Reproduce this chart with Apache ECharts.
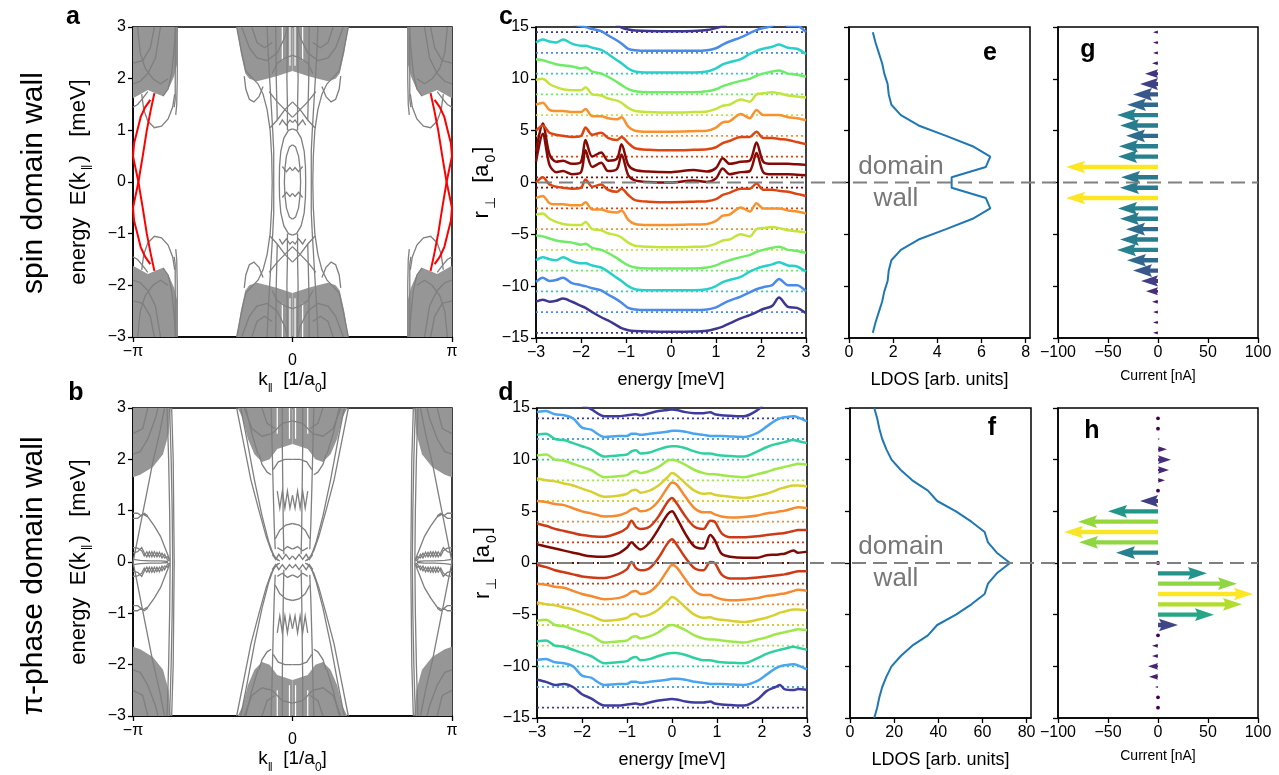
<!DOCTYPE html>
<html>
<head>
<meta charset="utf-8">
<script src="https://cdn.jsdelivr.net/npm/echarts@6/dist/echarts.min.js"></script>
<style>
html, body { margin: 0; padding: 0; background: #fff; }
#main { width: 1279px; height: 775px; }
</style>
</head>
<body>
<div id="main"></div>
<script>
const PI = Math.PI;
const FONT = '"Liberation Sans", Arial, sans-serif';

// ---- panel a / b : band structure, stored for k<=0, E>=0 (mirrored in k and E) ----
const bandAPolys = [
  [[-PI,3],[-2.27,3],[-2.27,2.3],[-2.33,2.05],[-2.42,1.85],[-2.55,1.66],[-2.7,1.72],[-2.85,1.78],[-3.0,1.7],[-PI,1.62]],
  [[-1.1,3],[0,3],[0,2.15],[-0.3,2.05],[-0.5,2.0],[-0.7,1.95],[-0.85,2.0],[-0.93,2.1],[-1.02,2.5]]
];
const bandALines = [
  [[-2.97,1.7],[-2.93,1.4],[-2.85,1.18],[-2.72,1.05],[-2.58,1.08],[-2.45,1.22],[-2.36,1.45],[-2.32,1.7]],
  [[-PI,1.45],[-3.05,1.5],[-2.95,1.62],[-2.85,1.75]],
  [[-2.27,3],[-2.27,2.0],[-2.28,1.5],[-2.3,1.3]],
  [[-2.31,3],[-2.31,1.6],[-2.33,1.45]],
  [[-2.55,1.66],[-2.45,1.8],[-2.38,2.1],[-2.33,2.6],[-2.3,3]],
  [[-PI,1.9],[-3.0,1.95],[-2.85,2.1],[-2.7,2.4],[-2.6,3]],
  [[-PI,2.3],[-2.95,2.35],[-2.8,2.6],[-2.72,3]],
  [[-3.05,3],[-3.0,2.5],[-2.9,2.2],[-2.75,2.0],[-2.6,1.9],[-2.45,2.0]],
  [[-0.40,0],[-0.41,0.5],[-0.44,1.0],[-0.5,1.4],[-0.58,1.7],[-0.68,1.9],[-0.8,2.02],[-0.92,2.15],[-1.0,2.5],[-1.1,3]],
  [[-0.37,0],[-0.37,0.6],[-0.39,1.0],[-0.42,1.5],[-0.45,2.0],[-0.48,2.5],[-0.5,3]],
  [[-0.95,2.05],[-0.92,1.8],[-0.85,1.6],[-0.76,1.55],[-0.66,1.65],[-0.58,1.85]],
  [[-0.26,0],[-0.255,0.3],[-0.23,0.6],[-0.17,0.85],[-0.08,1.0],[0,1.03]],
  [[-0.16,0],[-0.15,0.25],[-0.12,0.5],[-0.06,0.68],[0,0.72]],
  [[-0.44,1.05],[-0.3,1.2],[-0.15,1.4],[0,1.55]],
  [[-0.46,1.75],[-0.3,1.55],[-0.15,1.4],[0,1.25]],
  [[-0.1,1.0],[-0.1,1.5],[-0.11,2.0],[-0.1,3]],
  [[-0.3,1.2],[-0.32,2.0],[-0.33,3]],
  [[-0.26,1.1],[-0.2,1.2],[-0.12,1.1],[-0.05,1.2],[0,1.15]],
  [[-0.4,2.1],[-0.3,2.3],[-0.15,2.4],[0,2.45]],
  [[-0.2,0.3],[-0.12,0.2],[-0.05,0.28],[0,0.22]],
  [[-1.0,3],[-0.85,2.6],[-0.7,2.4],[-0.5,2.35],[-0.3,2.5],[-0.15,2.8],[-0.1,3]],
  [[-0.8,3],[-0.7,2.7],[-0.55,2.6],[-0.4,2.7]]
];
const bandAGaps = [
  [[-0.05,3],[-0.05,2.25]],
  [[-0.2,3],[-0.2,2.35]]
];
const bandARed = [
  [[-PI,0.5],[-3.12,0.75],[-3.055,1.0],[-2.99,1.26],[-2.9,1.45],[-2.8,1.59]],
  [[-PI,-0.5],[-3.035,0],[-2.95,0.5],[-2.87,1.0],[-2.79,1.4],[-2.72,1.72]]
];
const bandBPolys = [
  [[-PI,3],[-2.4,3],[-2.44,2.5],[-2.55,2.1],[-2.75,1.85],[-3.0,1.7],[-PI,1.65]],
  [[-1.08,3],[0,3],[0,2.3],[-0.3,2.2],[-0.45,2.0],[-0.6,1.95],[-0.75,2.1],[-0.88,2.4],[-0.98,2.8]]
];
const bandBLines = [
  [[-PI,0],[-3.07,0.35],[-2.98,0.8],[-2.88,1.3],[-2.76,1.9],[-2.62,2.5],[-2.52,3]],
  [[-2.47,3],[-2.44,2],[-2.42,1],[-2.41,0]],
  [[-2.42,3],[-2.39,2],[-2.37,1],[-2.36,0]],
  [[-2.38,3],[-2.35,2],[-2.34,1],[-2.33,0]],
  [[-PI,0.95],[-3.05,0.95],[-2.98,0.9],[-2.92,0.95],[-2.85,0.9]],
  [[-PI,0.85],[-3.05,0.85],[-2.95,0.93],[-2.85,0.88],[-2.72,0.7],[-2.6,0.5],[-2.5,0.25],[-2.42,0.05]],
  [[-PI,0.28],[-3.05,0.27],[-2.97,0.22],[-2.92,0.12],[-2.87,0.2],[-2.82,0.1],[-2.77,0.2],[-2.72,0.1],[-2.67,0.19],[-2.62,0.1],[-2.57,0.17],[-2.52,0.08],[-2.46,0.1],[-2.42,0.03]],
  [[-PI,0.18],[-3.05,0.2],[-2.97,0.28],[-2.92,0.18],[-2.87,0.1],[-2.82,0.2],[-2.77,0.1],[-2.72,0.2],[-2.67,0.1],[-2.62,0.19],[-2.57,0.08],[-2.52,0.15],[-2.46,0.04],[-2.42,0.02]],
  [[-PI,0.05],[-3.0,0.03],[-2.8,0.02],[-2.6,0.02],[-2.45,0.01]],
  [[-PI,2.1],[-3.0,2.15],[-2.85,2.4],[-2.7,2.8],[-2.65,3]],
  [[-PI,2.5],[-2.95,2.6],[-2.85,3]],
  [[-1.1,3],[-0.96,2.3],[-0.82,1.6],[-0.66,1.0],[-0.52,0.5],[-0.42,0.22],[-0.33,0.07],[-0.25,0.02]],
  [[-1.02,3],[-0.9,2.4],[-0.75,1.6],[-0.6,0.9],[-0.47,0.4],[-0.37,0.12],[-0.28,0.03]],
  [[-0.92,3],[-0.8,2.5],[-0.68,2.1]],
  [[-0.42,3],[-0.4,2.2],[-0.38,1.4],[-0.36,0.7],[-0.34,0.25]],
  [[-0.2,3],[-0.2,2.2],[-0.19,1.4],[-0.18,0.6],[-0.17,0.15]],
  [[-0.3,1.38],[-0.25,1.05],[-0.2,1.38],[-0.15,1.05],[-0.1,1.38],[-0.05,1.05],[0,1.3]],
  [[-0.4,0.15],[-0.33,0.05],[-0.27,0.15],[-0.2,0.05],[-0.13,0.15],[-0.06,0.05],[0,0.12]],
  [[-0.34,0.45],[-0.25,0.62],[-0.13,0.72],[0,0.75]],
  [[-0.3,0.28],[-0.2,0.22],[-0.1,0.3],[0,0.25]],
  [[-0.38,1.8],[-0.28,1.95],[-0.15,2.0],[0,2.0]],
  [[-0.66,2.1],[-0.6,1.9],[-0.5,1.75],[-0.42,1.7]],
  [[-0.95,3],[-0.8,2.6],[-0.6,2.45],[-0.4,2.5],[-0.2,2.7],[0,2.75]],
  [[-0.6,3],[-0.5,2.7],[-0.35,2.6]]
];
const bandBGaps = [
  [[-0.06,3],[-0.06,2.4]],
  [[-0.3,3],[-0.3,2.5]]
];

// ---- panel c : LDOS waterfall, spin domain wall (offset above each baseline) ----
const cEnergy = [-3,-2.85,-2.7,-2.55,-2.4,-2.2,-2.0,-1.9,-1.75,-1.55,-1.4,-1.2,-1.1,-0.95,-0.8,-0.5,0,0.5,0.8,1.0,1.15,1.3,1.55,1.75,1.9,2.05,2.25,2.4,2.6,2.8,3.0];
const cBaselines = [-14.5,-12.5,-10.5,-8.5,-6.5,-4.5,-2.5,-0.5,0.5,2.5,4.5,6.5,8.5,10.5,12.5,14.5];
const cLdos05 = [2.5,5.2,2.2,1.5,1.6,1.3,1.5,3.6,2.0,2.4,1.6,1.8,3.2,1.2,0.7,0.55,0.5,0.7,0.55,0.9,1.85,1.3,1.5,1.6,3.35,1.5,1.3,1.3,1.3,1.25,1.2];
const cLdos25 = [2.5,3.0,2.3,2.1,2.0,1.9,2.0,2.8,2.1,2.3,1.8,1.6,1.9,1.3,0.8,0.65,0.6,0.65,0.7,0.9,1.3,1.5,1.9,1.9,2.4,1.8,1.8,1.7,1.6,1.4,1.2];
const cLdos45 = [3.0,3.2,2.5,2.4,2.4,2.3,2.3,2.6,1.9,1.9,1.7,1.6,1.8,0.9,0.5,0.4,0.4,0.45,0.5,0.8,1.3,1.4,2.1,1.7,2.5,2.0,2.0,2.0,1.8,1.7,1.5];
const cLdos65 = [3.4,3.5,3.0,2.7,2.5,2.4,2.4,2.7,2.0,1.9,1.6,1.4,1.2,0.7,0.4,0.3,0.25,0.3,0.35,0.6,0.9,1.0,1.5,1.3,2.0,2.1,2.2,2.1,1.9,1.8,1.7];
const cLdos85 = [3.4,3.3,3.1,2.9,2.8,2.7,2.5,2.6,2.2,2.0,1.7,1.2,0.9,0.5,0.3,0.2,0.2,0.2,0.3,0.5,0.8,1.0,1.3,1.5,1.8,2.0,2.2,2.3,2.0,1.9,1.7];
const cLdos105 = [3.0,3.3,3.1,3.0,3.3,2.9,2.7,2.7,2.5,2.3,1.9,1.3,1.0,0.5,0.2,0.1,0.1,0.1,0.2,0.5,0.9,1.1,1.4,1.9,2.2,2.4,2.6,2.8,2.5,2.4,1.9];
const cLdos125 = [2.9,3.3,3.0,3.1,3.3,2.8,2.6,2.5,2.3,2.1,1.7,1.2,0.9,0.4,0.25,0.2,0.2,0.2,0.25,0.45,0.8,1.1,1.5,1.9,2.2,2.4,2.6,3.2,2.6,2.6,2.0];
const cLdos145 = [3.0,3.2,3.0,3.1,3.3,3.0,2.6,2.4,2.0,1.5,1.2,0.7,0.45,0.25,0.17,0.12,0.1,0.12,0.2,0.4,0.6,0.9,1.4,1.7,2.0,2.3,2.6,3.4,2.5,2.4,1.9];
const cShapes = [cLdos05, cLdos25, cLdos45, cLdos65, cLdos85, cLdos105, cLdos125, cLdos145];
const cColors = ['#850a05','#dd4512','#f8922e','#c3e43c','#6eec65','#27d0c8','#4a8ae8','#3d3791'];

// ---- panel d : LDOS waterfall, pi-phase domain wall ----
const dEnergy = [-3,-2.8,-2.6,-2.4,-2.2,-2.0,-1.8,-1.5,-1.2,-1.0,-0.9,-0.8,-0.7,-0.5,-0.3,-0.1,0,0.1,0.3,0.5,0.7,0.85,0.95,1.1,1.3,1.6,1.9,2.1,2.3,2.4,2.5,2.7,2.8,3.0];
const dBaselines = [-14,-12,-10,-8,-6,-4,-2,0,2,4,6,8,10,12,14];
const dLdos0 = [1.8,1.6,1.4,1.2,1.0,0.8,0.65,0.6,0.9,1.5,2.0,1.6,1.3,2.0,3.3,4.7,5.0,4.4,2.8,1.6,1.4,2.7,2.2,0.9,0.6,0.5,0.5,0.75,0.8,0.85,0.9,1.2,1.0,1.1];
const dLdos2 = [1.8,1.6,1.3,1.1,0.9,0.7,0.6,0.55,0.9,1.4,2.1,1.5,1.3,1.5,2.5,3.9,4.3,3.8,2.5,1.5,1.3,2.1,2.0,0.9,0.5,0.5,0.6,0.7,0.8,0.85,0.9,1.1,1.2,1.2];
const dLdos4 = [2.0,1.9,1.7,1.6,1.3,1.0,0.8,0.5,0.6,0.9,1.2,1.3,1.0,1.2,2.0,3.3,3.8,3.6,2.4,1.3,0.9,0.9,0.7,0.5,0.4,0.45,0.6,0.8,0.9,1.0,1.05,1.3,1.4,1.3];
const dLdos6 = [2.2,2.0,1.9,1.7,1.5,1.2,0.9,0.4,0.5,0.7,1.0,1.1,0.8,1.0,1.5,2.3,2.7,2.5,1.7,1.0,0.7,0.75,0.6,0.5,0.4,0.3,0.5,0.7,1.0,1.2,1.3,1.5,1.5,1.4];
const dLdos8 = [2.4,2.5,2.0,1.9,1.6,1.3,1.0,0.3,0.4,0.5,0.8,0.9,0.7,0.9,1.3,1.9,2.0,1.9,1.5,1.0,0.7,0.6,0.6,0.5,0.4,0.3,0.6,0.8,1.1,1.2,1.3,1.5,1.6,1.5];
const dLdos10 = [2.4,2.5,2.0,1.9,1.6,1.3,1.0,0.3,0.4,0.5,0.8,0.9,0.6,0.7,1.0,1.25,1.3,1.3,1.1,0.8,0.6,0.6,0.5,0.4,0.35,0.3,0.8,1.2,1.5,1.6,1.7,1.9,1.8,1.6];
const dLdos12 = [2.6,2.7,2.4,2.3,2.0,1.1,0.9,0.2,0.3,0.3,0.5,0.5,0.4,0.5,0.6,0.7,0.8,0.8,0.7,0.5,0.4,0.3,0.3,0.3,0.25,0.2,0.6,1.2,1.8,2.0,2.1,2.2,2.1,1.7];
const dLdos14 = [2.7,2.5,2.2,2.3,2.0,1.3,0.9,0.2,0.2,0.3,0.35,0.4,0.3,0.5,0.7,0.8,0.85,0.8,0.6,0.5,0.5,0.6,0.4,0.3,0.25,0.2,0.8,1.6,2.0,2.2,1.8,1.7,1.8,1.7];
const dShapes = [dLdos0, dLdos2, dLdos4, dLdos6, dLdos8, dLdos10, dLdos12, dLdos14];
const dColors = ['#7d0a05','#cc3a16','#f58a30','#d8d030','#9fe84a','#2fd0a0','#4aa5f0','#3e3d9e'];

// ---- panel e / f : integrated LDOS profile ----
const eR = [14.5,13.5,12.5,11.5,10.5,9.5,8.5,7.5,6.5,5.5,4.5,3.5,2.5,1.5,0.5,-0.5,-1.5,-2.5,-3.5,-4.5,-5.5,-6.5,-7.5,-8.5,-9.5,-10.5,-11.5,-12.5,-13.5,-14.5];
const eLdos = [1.08,1.2,1.35,1.5,1.6,1.75,1.8,1.92,2.35,3.15,4.4,5.6,6.4,6.2,4.65,4.65,6.2,6.4,5.6,4.4,3.15,2.35,1.92,1.8,1.75,1.6,1.5,1.35,1.2,1.08];
const fR = [15,14,13,12,11,10,9,8,7,6,5,4,3,2,1,0,-1,-2,-3,-4,-5,-6,-7,-8,-9,-10,-11,-12,-13,-14,-15];
const fLdos = [11.0,12.3,13.3,14.6,16.5,18.8,23.0,28.2,35.3,39.5,48.0,55.0,61.0,62.5,66.5,72.5,66.5,62.5,61.0,55.0,48.0,39.5,35.3,28.2,23.0,18.8,16.5,14.6,13.3,12.3,11.0];

// ---- panel g / h : current along the wall ----
const gR = eR;
const gCurrent = [-5,-5,-5,-6,-13,-18,-25,-31,-41,-38,-32,-39,-40,-92,-37,-38,-92,-40,-38,-32,-38,-41,-31,-25,-17,-12,-6,-5,-5,-5];
const hR = [14,13,12,11,10,9,8,7,6,5,4,3,2,1,0,-1,-2,-3,-4,-5,-6,-7,-8,-9,-10,-11,-12,-13,-14];
const hCurrent = [0,0,2,9,13,11,7,0,-18,-50,-80,-94,-79,-42,0,49,79,95,84,56,20,0,-6,-6,-10,-9,-3,0,0];
const viridis = ['#440154','#482878','#3e4989','#31688e','#26828e','#1f9e89','#35b779','#6ece58','#b5de2b','#fde725'];

// ---------------------------------------------------------------------------
function mirror4(pts) {
  return [pts, pts.map(p => [-p[0], p[1]]), pts.map(p => [p[0], -p[1]]), pts.map(p => [-p[0], -p[1]])];
}

function shapeSeries(idx, shapes, kind, style, z) {
  return {
    type: 'custom', xAxisIndex: idx, yAxisIndex: idx, silent: true, z: z,
    data: shapes.map((s, i) => [0, 0, i]),
    encode: { x: 0, y: 1 },
    renderItem: (params, api) => {
      const pts = shapes[api.value(2)].map(p => api.coord(p));
      return { type: kind, shape: { points: pts }, style: style };
    }
  };
}

function arrowItem(params, api) {
  const r = api.value(1), cur = api.value(2);
  const p0 = api.coord([0, r]), p1 = api.coord([cur, r]);
  const L = Math.abs(p1[0] - p0[0]);
  const fill = api.visual('color');
  if (L < 1) return { type: 'circle', shape: { cx: p0[0], cy: p0[1], r: 1.9 }, style: { fill: fill } };
  const dir = cur < 0 ? -1 : 1;
  const w = 2.2, hw = 6.3, hl = 19, hal = 17;
  const len = Math.max(L, hl), s = Math.min(1, L / hl);
  const pts = [[0, -w], [len - hal, -w], [len - hl, -hw], [len, 0], [len - hl, hw], [len - hal, w], [0, w]];
  return { type: 'polygon', shape: { points: pts.map(p => [p0[0] + dir * p[0] * s, p0[1] + p[1] * s]) }, style: { fill: fill } };
}

const minus = v => String(v).replace('-', '−');
const tick = { show: true, length: 5, lineStyle: { color: '#000', width: 1.3 } };
const axLine = { show: true, onZero: false, lineStyle: { color: '#000', width: 1.5 } };
const lab = { color: '#000', fontSize: 16, fontFamily: FONT, margin: 7, formatter: minus };
const nameStyle = { color: '#000', fontSize: 18, fontFamily: FONT };
const subRich = {
  m: { fontSize: 19, fontFamily: FONT, color: '#000', lineHeight: 30 },
  s: { fontSize: 12, fontFamily: FONT, color: '#000', lineHeight: 14, verticalAlign: 'bottom' }
};
const subRichY = {
  m: { fontSize: 22, fontFamily: FONT, color: '#000', lineHeight: 33 },
  s: { fontSize: 14, fontFamily: FONT, color: '#000', lineHeight: 16, verticalAlign: 'bottom', padding: [0, 2, 0, 2] }
};

const grids = [
  { left: 133, top: 27, width: 319, height: 310 },
  { left: 133, top: 408, width: 319, height: 308 },
  { left: 536, top: 27, width: 270, height: 311 },
  { left: 537, top: 408, width: 270, height: 310 },
  { left: 849, top: 27, width: 181, height: 311 },
  { left: 850, top: 408, width: 181, height: 310 },
  { left: 1058, top: 27, width: 200, height: 311 },
  { left: 1058, top: 408, width: 200, height: 310 },
  { left: 538, top: 27, width: 720, height: 311 },
  { left: 537, top: 408, width: 721, height: 310 }
].map((g, i) => Object.assign(g, i < 8 ? { show: true, borderColor: '#000', borderWidth: 1.5 } : {}));

const kTicks = [-PI, 0, PI];
const kLabels = ['−π', '0', 'π'];
function kAxis(i) {
  return {
    gridIndex: i, type: 'value', min: -PI, max: PI,
    axisLine: axLine,
    axisTick: Object.assign({ customValues: kTicks }, tick),
    axisLabel: Object.assign({}, lab, {
      customValues: kTicks,
      formatter: v => {
        const j = kTicks.findIndex(t => Math.abs(t - v) < 1e-6);
        return j === 1 ? '{lo|0}' : kLabels[j];
      },
      rich: { lo: { fontSize: 16, fontFamily: FONT, color: '#000', padding: [9, 0, 0, 0] } }
    }),
    splitLine: { show: false },
    name: '{m|k}{s|‖}{m|  [1/a}{s|0}{m|]}', nameLocation: 'middle', nameGap: 24,
    nameTextStyle: { rich: subRich }
  };
}
function valAxis(i, min, max, interval, extra) {
  return Object.assign({
    gridIndex: i, type: 'value', min: min, max: max, interval: interval,
    axisLine: axLine, axisTick: tick, axisLabel: lab, splitLine: { show: false }
  }, extra || {});
}
const hidden = i => ({ gridIndex: i, type: 'value', show: false });

const xAxes = [
  kAxis(0), kAxis(1),
  valAxis(2, -3, 3, 1, { name: 'energy [meV]', nameLocation: 'middle', nameGap: 33, nameTextStyle: nameStyle }),
  valAxis(3, -3, 3, 1, { name: 'energy [meV]', nameLocation: 'middle', nameGap: 33, nameTextStyle: nameStyle }),
  valAxis(4, 0, 8.2, 2, { name: 'LDOS [arb. units]', nameLocation: 'middle', nameGap: 33, nameTextStyle: nameStyle,
    axisLabel: Object.assign({}, lab, { showMaxLabel: false }) }),
  valAxis(5, 0, 82, 20, { name: 'LDOS [arb. units]', nameLocation: 'middle', nameGap: 33, nameTextStyle: nameStyle,
    axisLabel: Object.assign({}, lab, { showMaxLabel: false }) }),
  valAxis(6, -100, 100, 50, { name: 'Current [nA]', nameLocation: 'middle', nameGap: 31, nameTextStyle: Object.assign({}, nameStyle, { fontSize: 14 }) }),
  valAxis(7, -100, 100, 50, { name: 'Current [nA]', nameLocation: 'middle', nameGap: 31, nameTextStyle: Object.assign({}, nameStyle, { fontSize: 14 }) }),
  Object.assign(hidden(8), { min: 0, max: 1 }),
  Object.assign(hidden(9), { min: 0, max: 1 })
];
const eName = { name: '{m|energy  E(k}{s|‖}{m|)   [meV]}', nameLocation: 'middle', nameGap: 38, nameRotate: 90, nameTextStyle: { rich: subRichY } };
const rName = { name: '{m|r}{s|⊥}{m|  [a}{s|0}{m|]}', nameLocation: 'middle', nameGap: 21, nameRotate: 90, nameTextStyle: { rich: subRichY } };
const noLab = { axisLabel: { show: false } };
const yAxes = [
  valAxis(0, -3, 3, 1, eName), valAxis(1, -3, 3, 1, eName),
  valAxis(2, -15, 15, 5, rName), valAxis(3, -15, 15, 5, rName),
  valAxis(4, -15, 15, 5, noLab), valAxis(5, -15, 15, 5, noLab),
  valAxis(6, -15, 15, 5, noLab), valAxis(7, -15, 15, 5, noLab),
  Object.assign(hidden(8), { min: -15, max: 15 }),
  Object.assign(hidden(9), { min: -15, max: 15 })
];

const series = [];
const gray = '#7f7f7f';
// a
series.push(shapeSeries(0, bandAPolys.flatMap(mirror4), 'polygon', { fill: '#969696' }, 1));
series.push(shapeSeries(0, bandAGaps.flatMap(mirror4), 'polyline', { stroke: '#fff', lineWidth: 1.2, fill: null }, 1.5));
series.push(shapeSeries(0, bandALines.flatMap(mirror4), 'polyline', { stroke: gray, lineWidth: 1.3, fill: null }, 2));
series.push(shapeSeries(0, bandARed.flatMap(mirror4), 'polyline', { stroke: '#ff0000', lineWidth: 2, fill: null }, 3));
// b
series.push(shapeSeries(1, bandBPolys.flatMap(mirror4), 'polygon', { fill: '#969696' }, 1));
series.push(shapeSeries(1, bandBGaps.flatMap(mirror4), 'polyline', { stroke: '#fff', lineWidth: 1.2, fill: null }, 1.5));
series.push(shapeSeries(1, bandBLines.flatMap(mirror4), 'polyline', { stroke: gray, lineWidth: 1.3, fill: null }, 2));

function waterfall(idx, energy, baselines, shapes, colors, step, first) {
  baselines.forEach(r => {
    const k = Math.round((Math.abs(r) - first) / step);
    const col = colors[k];
    series.push({
      type: 'line', xAxisIndex: idx, yAxisIndex: idx, silent: true, symbol: 'none', z: 2,
      lineStyle: { color: col, width: 1.8, type: [2, 3] },
      data: [[-3, r], [3, r]]
    });
    series.push({
      type: 'line', xAxisIndex: idx, yAxisIndex: idx, silent: true, symbol: 'none', smooth: 0.3, z: 3,
      lineStyle: { color: col, width: 2.5 },
      data: energy.map((e, i) => [e, r + shapes[k][i]])
    });
  });
}
waterfall(2, cEnergy, cBaselines, cShapes, cColors, 2, 0.5);
waterfall(3, dEnergy, dBaselines, dShapes, dColors, 2, 0);

series.push({ type: 'line', xAxisIndex: 4, yAxisIndex: 4, silent: true, symbol: 'none',
  lineStyle: { color: '#1f77b4', width: 2 }, data: eR.map((r, i) => [eLdos[i], r]) });
series.push({ type: 'line', xAxisIndex: 5, yAxisIndex: 5, silent: true, symbol: 'none',
  lineStyle: { color: '#1f77b4', width: 2 }, data: fR.map((r, i) => [fLdos[i], r]) });

const gIdx = series.length;
series.push({ type: 'custom', xAxisIndex: 6, yAxisIndex: 6, silent: true, renderItem: arrowItem,
  encode: { x: 2, y: 1 }, data: gR.map((r, i) => [0, r, gCurrent[i], Math.abs(gCurrent[i])]) });
const hIdx = series.length;
series.push({ type: 'custom', xAxisIndex: 7, yAxisIndex: 7, silent: true, renderItem: arrowItem,
  encode: { x: 2, y: 1 }, data: hR.map((r, i) => [0, r, hCurrent[i], Math.abs(hCurrent[i])]) });

[8, 9].forEach(i => series.push({ type: 'line', xAxisIndex: i, yAxisIndex: i, silent: true, symbol: 'none', z: 10,
  lineStyle: { color: '#808080', width: 2, type: [14, 7] }, data: [[0, 0], [1, 0]] }));

const letter = (t, x, y) => ({ type: 'text', x: x, y: y, z: 100,
  style: { text: t, fill: '#000', font: 'bold 25px ' + FONT, align: 'center', verticalAlign: 'middle' } });
const grayText = (t, x, y) => ({ type: 'text', x: x, y: y, z: 100,
  style: { text: t, fill: '#777', font: '26px ' + FONT, align: 'center', verticalAlign: 'middle' } });
const sideText = (t, x, y) => ({ type: 'text', x: x, y: y, rotation: PI / 2, z: 100,
  style: { text: t, fill: '#000', font: '30px ' + FONT, align: 'center', verticalAlign: 'middle' } });

const option = {
  animation: false,
  backgroundColor: '#fff',
  grid: grids,
  xAxis: xAxes,
  yAxis: yAxes,
  visualMap: [
    { type: 'continuous', show: false, seriesIndex: gIdx, dimension: 3, min: 0, max: 92, inRange: { color: viridis } },
    { type: 'continuous', show: false, seriesIndex: hIdx, dimension: 3, min: 0, max: 95, inRange: { color: viridis } }
  ],
  graphic: [
    letter('a', 73, 17), letter('b', 76, 393), letter('c', 506, 17), letter('d', 506, 393),
    letter('e', 990, 53), letter('f', 992, 428), letter('g', 1088, 50), letter('h', 1092, 431),
    grayText('domain', 901, 167), grayText('wall', 896, 199),
    grayText('domain', 901, 547), grayText('wall', 896, 579),
    sideText('spin domain wall', 34, 183),
    sideText('π-phase domain wall', 34, 576)
  ],
  series: series
};

const chart = echarts.init(document.getElementById('main'));
chart.setOption(option);
</script>
</body>
</html>
